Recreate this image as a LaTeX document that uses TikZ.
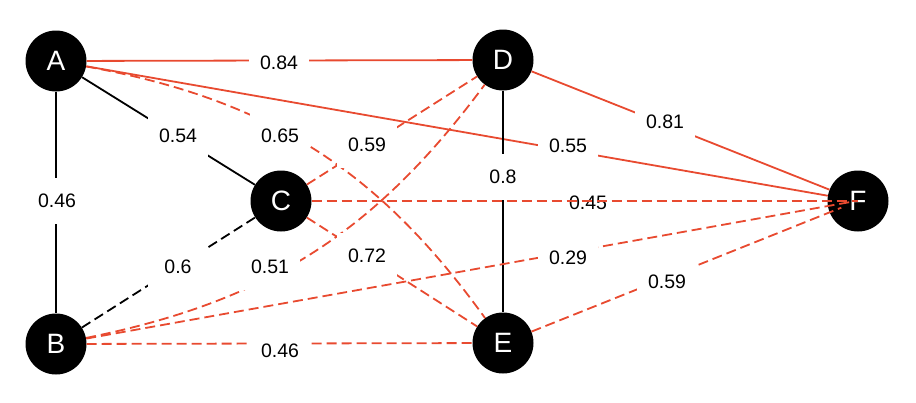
\documentclass[tikz,border=0pt]{standalone}
\usepackage{fontspec}
\setmainfont{Liberation Sans}
\usetikzlibrary{calc}
\definecolor{edgered}{RGB}{232,74,48}
\begin{document}
\begin{tikzpicture}[x=1pt,y=-1pt,
  vtx/.style={circle,fill=black,minimum size=61pt,inner sep=0pt,text=white,font=\fontsize{28}{30}\selectfont},
  lbl/.style={fill=white,minimum width=60pt,minimum height=46pt,inner sep=0pt,font=\fontsize{19.5}{22}\selectfont},
  lblclear/.style={lbl,fill=none},
  redline/.style={draw=edgered,line width=1.8pt},
  blackline/.style={draw=black,line width=1.8pt},
  dsh/.style={dash pattern=on 10pt off 5pt}
]
\useasboundingbox (0,0) rectangle (916,402);

% nodes
\node[vtx] (A) at (56,61) {A};
\node[vtx] (B) at (56,344) {B};
\node[vtx] (C) at (281,201) {C};
\node[vtx] (D) at (503,60) {D};
\node[vtx] (E) at (503,343) {E};
\node[vtx] (F) at (858,201) {F};

% edges
\draw[redline] (A) -- (D);
\draw[redline] (A) -- (F);
\draw[blackline] (A) -- (C);
\draw[blackline] (A) -- (B);
\draw[redline,dsh] (A) to[bend left=22] (E);
\draw[redline] (D) -- (F);
\draw[blackline] (D) -- (E);
\draw[redline,dsh] (C) -- (D);
\draw[redline,dsh] (B) to[bend right=21] (D);
\draw[blackline,dsh] (B) -- (C);
\draw[redline,dsh] (C) -- (E);
\draw[redline,dsh] (B) -- (E);

% labels
\node[lbl] (l84) at (279,63) {0.84};
\node[lbl] (l54) at (178,136) {0.54};
\node[lbl] (l65) at (280,136) {0.65};
\node[lbl] (l46a) at (57,201) {0.46};
\node[lbl] (l59a) at (367,145) {0.59};
\node[lbl] (l55) at (568,146) {0.55};
\node[lbl] (l81) at (665,122) {0.81};
\node[lbl] (l8) at (503,177) {0.8};
\node[lblclear] (l45) at (588,203) {0.45};
\node[lbl] (l6) at (178,267) {0.6};
\node[lbl] (l51) at (270,267) {0.51};
\node[lbl] (l72) at (367,256) {0.72};
\node[lbl] (l46b) at (280,351) {0.46};

% dashed edges running into F
\draw[redline,dsh] (C) -- (F.center);
\draw[redline,dsh] (B) -- ([xshift=-2pt]F.center);
\draw[redline,dsh,shorten >=18pt] (E) -- (F.center);

\node[lbl] (l29) at (568,258) {0.29};
\node[lbl] (l59b) at (667,282) {0.59};
\end{tikzpicture}
\end{document}
